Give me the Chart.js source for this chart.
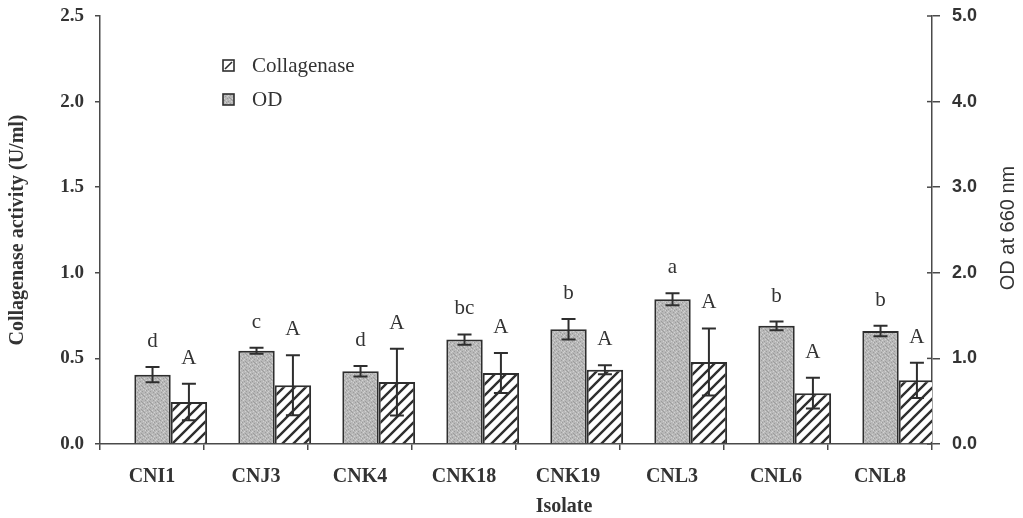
<!DOCTYPE html>
<html>
<head>
<meta charset="utf-8">
<script src="https://cdn.jsdelivr.net/npm/chart.js@4.4.1/dist/chart.umd.min.js"></script>
<style>
  html, body { margin: 0; padding: 0; background: #ffffff; }
  #wrap { width: 1023px; height: 518px; position: relative; }
</style>
</head>
<body>
<div id="wrap"><canvas id="chart" width="1023" height="518"></canvas></div>
<script>
// Isolates on the x axis
const isolates = ['CNI1', 'CNJ3', 'CNK4', 'CNK18', 'CNK19', 'CNL3', 'CNL6', 'CNL8'];

// Optical density at 660 nm (right axis) with standard deviations and grouping letters
const odValues  = [0.81, 1.09, 0.85, 1.22, 1.34, 1.69, 1.38, 1.32];
const odErrors  = [0.09, 0.035, 0.06, 0.06, 0.12, 0.07, 0.05, 0.06];
const odLetters = ['d', 'c', 'd', 'bc', 'b', 'a', 'b', 'b'];

// Collagenase activity in U/ml (left axis) with standard deviations and grouping letters
const collagenaseValues  = [0.245, 0.343, 0.362, 0.415, 0.434, 0.479, 0.297, 0.372];
const collagenaseErrors  = [0.107, 0.175, 0.195, 0.117, 0.026, 0.196, 0.090, 0.103];
const collagenaseLetters = ['A', 'A', 'A', 'A', 'A', 'A', 'A', 'A'];

// Tick values for both y axes
const leftTicks  = [0, 0.5, 1.0, 1.5, 2.0, 2.5];
const rightTicks = [0, 1, 2, 3, 4, 5];

const SERIF = '"Liberation Serif", "Times New Roman", serif';
const SANS = '"Liberation Sans", Arial, sans-serif';
const INK = '#333333';
const AXIS = '#4a4a4a';

// the bar pair sits to the right of each category centre
const groupShift = 0.18;

// speckled grey fill
function makeSpecklePattern() {
  const c = document.createElement('canvas');
  c.width = 8; c.height = 8;
  const g = c.getContext('2d');
  g.fillStyle = '#b8b8b8';
  g.fillRect(0, 0, 8, 8);
  const dark = [[1,0],[5,1],[3,2],[7,3],[0,4],[4,5],[2,6],[6,7],[6,2]];
  const light = [[3,0],[0,2],[5,3],[2,4],[7,5],[1,6],[4,7]];
  g.fillStyle = '#9c9c9c';
  dark.forEach(p => g.fillRect(p[0], p[1], 1, 1));
  g.fillStyle = '#d2d2d2';
  light.forEach(p => g.fillRect(p[0], p[1], 1, 1));
  return g.createPattern(c, 'repeat');
}

// "/" diagonal hatching on white
function makeHatchPattern() {
  const s = 11;
  const c = document.createElement('canvas');
  c.width = s; c.height = s;
  const g = c.getContext('2d');
  g.fillStyle = '#ffffff';
  g.fillRect(0, 0, s, s);
  g.strokeStyle = '#2e2e2e';
  g.lineWidth = 2.4;
  g.beginPath();
  g.moveTo(-2, s + 2); g.lineTo(s + 2, -2);
  g.moveTo(-2, 2); g.lineTo(2, -2);
  g.moveTo(s - 2, s + 2); g.lineTo(s + 2, s - 2);
  g.stroke();
  return g.createPattern(c, 'repeat');
}

const speckle = makeSpecklePattern();
const hatch = makeHatchPattern();

const seriesLetters = [odLetters, collagenaseLetters];
const seriesErrors = [odErrors, collagenaseErrors];

// error bars, grouping letters, legend and the extra axis titles
const decorations = {
  id: 'decorations',
  afterDatasetsDraw(chart) {
    const ctx = chart.ctx;
    ctx.save();

    // error bars
    chart.data.datasets.forEach((ds, di) => {
      const meta = chart.getDatasetMeta(di);
      const yScale = chart.scales[meta.yAxisID];
      const errs = seriesErrors[di];
      meta.data.forEach((bar, i) => {
        const v = ds.data[i].y;
        const top = yScale.getPixelForValue(v + errs[i]);
        const bot = yScale.getPixelForValue(v - errs[i]);
        ctx.strokeStyle = '#2e2e2e';
        ctx.lineWidth = 2;
        ctx.beginPath();
        ctx.moveTo(bar.x, top); ctx.lineTo(bar.x, bot);
        ctx.moveTo(bar.x - 7, top); ctx.lineTo(bar.x + 7, top);
        ctx.moveTo(bar.x - 7, bot); ctx.lineTo(bar.x + 7, bot);
        ctx.stroke();

        // grouping letter above the error bar
        ctx.fillStyle = INK;
        ctx.font = '21px ' + SERIF;
        ctx.textAlign = 'center';
        ctx.textBaseline = 'alphabetic';
        ctx.fillText(seriesLetters[di][i], bar.x, top - 20);
      });
    });

    // legend (collagenase first)
    const legendX = 223, legendY = [60, 94], box = 11;
    [1, 0].forEach((di, row) => {
      const ds = chart.data.datasets[di];
      const y = legendY[row];
      ctx.fillStyle = di === 1 ? '#ffffff' : speckle;
      ctx.fillRect(legendX, y, box, box);
      ctx.strokeStyle = '#2e2e2e';
      ctx.lineWidth = 1.6;
      ctx.strokeRect(legendX, y, box, box);
      if (di === 1) {
        ctx.beginPath();
        ctx.moveTo(legendX + 2, y + box - 2);
        ctx.lineTo(legendX + box - 2, y + 2);
        ctx.stroke();
      }
      ctx.fillStyle = INK;
      ctx.font = '21px ' + SERIF;
      ctx.textAlign = 'left';
      ctx.textBaseline = 'middle';
      ctx.fillText(ds.label, legendX + 29, y + box / 2 + 1);
    });

    // right axis: inner half of the tick marks and the title
    const y2 = chart.scales.y2;
    ctx.strokeStyle = AXIS;
    ctx.lineWidth = 1.5;
    y2.ticks.forEach(t => {
      const py = y2.getPixelForValue(t.value);
      ctx.beginPath();
      ctx.moveTo(y2.left - 5, py); ctx.lineTo(y2.left, py);
      ctx.stroke();
    });
    ctx.save();
    ctx.translate(1008, 228);
    ctx.rotate(-Math.PI / 2);
    ctx.fillStyle = INK;
    ctx.font = '20px ' + SANS;
    ctx.textAlign = 'center';
    ctx.textBaseline = 'middle';
    ctx.fillText(y2.options.title.text, 0, 0);
    ctx.restore();

    // x axis title
    const xs = chart.scales.x;
    ctx.fillStyle = INK;
    ctx.font = 'bold 20px ' + SERIF;
    ctx.textAlign = 'center';
    ctx.textBaseline = 'middle';
    ctx.fillText(xs.options.title.text, xs.getPixelForValue(4) - 4, 507);

    ctx.restore();
  }
};

// vertical axes keep the plot full height: no extra room reserved for end labels
function fitVertical(width) {
  return s => { s.width = width; s.paddingTop = 0; s.paddingBottom = 0; };
}

new Chart(document.getElementById('chart'), {
  type: 'bar',
  data: {
    datasets: [
      {
        label: 'OD',
        data: odValues.map((v, i) => ({ x: i, y: v })),
        xAxisID: 'xb',
        yAxisID: 'y2',
        backgroundColor: speckle,
        borderColor: '#2e2e2e',
        borderWidth: 2
      },
      {
        label: 'Collagenase',
        data: collagenaseValues.map((v, i) => ({ x: i, y: v })),
        xAxisID: 'xb',
        yAxisID: 'y',
        backgroundColor: hatch,
        borderColor: '#2e2e2e',
        borderWidth: 2
      }
    ]
  },
  options: {
    responsive: false,
    animation: false,
    events: [],
    layout: { padding: { top: 16, right: 0, bottom: 0, left: 0 } },
    datasets: { bar: { categoryPercentage: 0.70, barPercentage: 1.0, grouped: true } },
    plugins: {
      legend: { display: false },
      tooltip: { enabled: false }
    },
    scales: {
      x: {
        type: 'category',
        labels: isolates,
        position: 'bottom',
        offset: true,
        grid: { offset: true, drawOnChartArea: false, drawTicks: true, tickLength: 6, color: AXIS, lineWidth: 1.5 },
        border: { display: true, color: AXIS, width: 1.5 },
        ticks: { font: { family: SERIF, weight: 'bold', size: 20 }, color: INK, padding: 15, maxRotation: 0, autoSkip: false },
        title: { display: false, text: 'Isolate' },
        afterFit(s) { s.height = 74; s.paddingLeft = 0; s.paddingRight = 0; }
      },
      xb: {
        type: 'linear',
        display: false,
        offset: false,
        grid: { offset: false },
        min: -0.5 - groupShift,
        max: isolates.length - 0.5 - groupShift
      },
      y: {
        type: 'linear',
        position: 'left',
        min: 0,
        max: 2.5,
        afterBuildTicks(s) { s.ticks = leftTicks.map(v => ({ value: v })); },
        ticks: {
          callback: v => Number(v).toFixed(1),
          font: { family: SERIF, weight: 'bold', size: 19 },
          color: INK,
          padding: 11
        },
        grid: { drawOnChartArea: false, drawTicks: true, tickLength: 5, color: AXIS, lineWidth: 1.5 },
        border: { display: true, color: AXIS, width: 1.5 },
        title: {
          display: true,
          text: 'Collagenase activity (U/ml)',
          font: { family: SERIF, weight: 'bold', size: 20 },
          color: INK,
          padding: { top: 6, bottom: 0 }
        },
        afterFit: fitVertical(100)
      },
      y2: {
        type: 'linear',
        position: 'right',
        min: 0,
        max: 5,
        afterBuildTicks(s) { s.ticks = rightTicks.map(v => ({ value: v })); },
        ticks: {
          callback: v => Number(v).toFixed(1),
          font: { family: SANS, weight: 'bold', size: 18 },
          color: INK,
          padding: 12
        },
        grid: { drawOnChartArea: false, drawTicks: true, tickLength: 8, color: AXIS, lineWidth: 1.5 },
        border: { display: true, color: AXIS, width: 1.5 },
        title: { display: false, text: 'OD at 660 nm' },
        afterFit: fitVertical(91)
      }
    }
  },
  plugins: [decorations]
});
</script>
</body>
</html>
